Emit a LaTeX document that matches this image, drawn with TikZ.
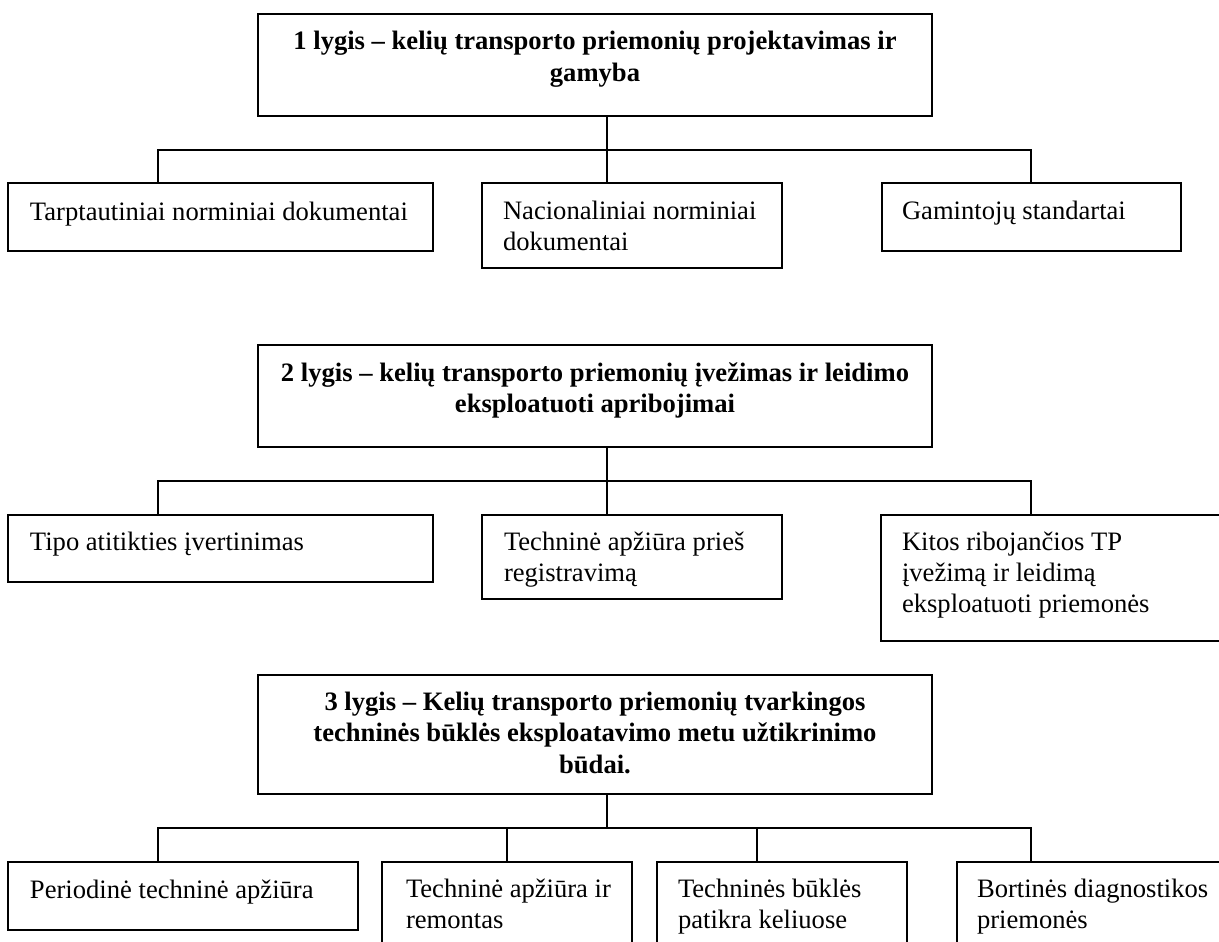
\documentclass[tikz,border=0pt]{standalone}
\usepackage{fontspec}
\setmainfont{Liberation Serif}
\begin{document}
\begin{tikzpicture}[x=1pt,y=-1pt,
  box/.style={draw=black, line width=1.6pt, rectangle, inner sep=0pt, outer sep=0pt, anchor=north west},
  txt/.style={inner sep=0pt, outer sep=0pt, anchor=base west, font=\fontsize{26.6}{31}\selectfont},
  head/.style={inner sep=0pt, outer sep=0pt, anchor=base, font=\fontsize{26.6}{31.5}\selectfont\bfseries},
  conn/.style={draw=black, line width=1.3pt}]
\useasboundingbox (0,0) rectangle (1219,942);
\clip (0,0) rectangle (1219,942);
% ---------- level 1 ----------
\node[box, minimum width=674pt, minimum height=102pt] (l1) at (258,14) {};
\node[head] (l1t) at (595,50) {\parbox[t]{660pt}{\centering 1 lygis – kelių transporto priemonių projektavimas ir\\ gamyba}};
\node[box, minimum width=425pt, minimum height=68pt] (a1) at (8,183) {};
\node[txt] (a1t) at (30,220) {\parbox[t]{400pt}{\raggedright Tarptautiniai norminiai dokumentai}};
\node[box, minimum width=300pt, minimum height=85pt] (b1) at (482,183) {};
\node[txt] (b1t) at (503,219) {\parbox[t]{280pt}{\raggedright Nacionaliniai norminiai\\ dokumentai}};
\node[box, minimum width=299pt, minimum height=68pt] (c1) at (882,183) {};
\node[txt] (c1t) at (902,219) {\parbox[t]{280pt}{\raggedright Gamintojų standartai}};
\coordinate (s1) at (607,150);
\coordinate (L1) at (158,150);
\coordinate (R1) at (1031,150);
\draw[conn] (s1 |- l1.south) -- (s1 |- b1.north);
\draw[conn] (L1 |- a1.north) -- (L1) -- (R1) -- (R1 |- c1.north);
% ---------- level 2 ----------
\node[box, minimum width=674pt, minimum height=102pt] (l2) at (258,345) {};
\node[head] (l2t) at (595,381) {\parbox[t]{660pt}{\centering 2 lygis – kelių transporto priemonių įvežimas ir leidimo\\ eksploatuoti apribojimai}};
\node[box, minimum width=425pt, minimum height=67pt] (a2) at (8,515) {};
\node[txt] (a2t) at (30,550) {\parbox[t]{400pt}{\raggedright Tipo atitikties įvertinimas}};
\node[box, minimum width=300pt, minimum height=84pt] (b2) at (482,515) {};
\node[txt] (b2t) at (504,550) {\parbox[t]{280pt}{\raggedright Techninė apžiūra prieš\\ registravimą}};
\node[box, minimum width=350pt, minimum height=126pt] (c2) at (881,515) {};
\node[txt] (c2t) at (902,550) {\parbox[t]{300pt}{\raggedright Kitos ribojančios TP\\ įvežimą ir leidimą\\ eksploatuoti priemonės}};
\coordinate (s2) at (607,481);
\coordinate (L2) at (158,481);
\coordinate (R2) at (1031,481);
\draw[conn] (s2 |- l2.south) -- (s2 |- b2.north);
\draw[conn] (L2 |- a2.north) -- (L2) -- (R2) -- (R2 |- c2.north);
% ---------- level 3 ----------
\node[box, minimum width=674pt, minimum height=119pt] (l3) at (258,675) {};
\node[head] (l3t) at (595,710) {\parbox[t]{660pt}{\centering 3 lygis – Kelių transporto priemonių tvarkingos\\ techninės būklės eksploatavimo metu užtikrinimo\\ būdai.}};
\node[box, minimum width=350pt, minimum height=68pt] (a3) at (8,862) {};
\node[txt] (a3t) at (30,898) {\parbox[t]{330pt}{\raggedright Periodinė techninė apžiūra}};
\node[box, minimum width=250pt, minimum height=100pt] (b3) at (382,862) {};
\node[txt] (b3t) at (406,897) {\parbox[t]{230pt}{\raggedright Techninė apžiūra ir\\ remontas}};
\node[box, minimum width=250pt, minimum height=100pt] (c3) at (657,862) {};
\node[txt] (c3t) at (678,897) {\parbox[t]{230pt}{\raggedright Techninės būklės\\ patikra keliuose}};
\node[box, minimum width=280pt, minimum height=100pt] (d3) at (957,862) {};
\node[txt] (d3t) at (977,897) {\parbox[t]{260pt}{\raggedright Bortinės diagnostikos\\ priemonės}};
\coordinate (s3) at (607,828);
\coordinate (L3) at (158,828);
\coordinate (M3a) at (507,828);
\coordinate (M3b) at (757,828);
\coordinate (R3) at (1031,828);
\draw[conn] (s3 |- l3.south) -- (s3);
\draw[conn] (L3 |- a3.north) -- (L3) -- (R3) -- (R3 |- d3.north);
\draw[conn] (M3a) -- (M3a |- b3.north);
\draw[conn] (M3b) -- (M3b |- c3.north);
\end{tikzpicture}
\end{document}
